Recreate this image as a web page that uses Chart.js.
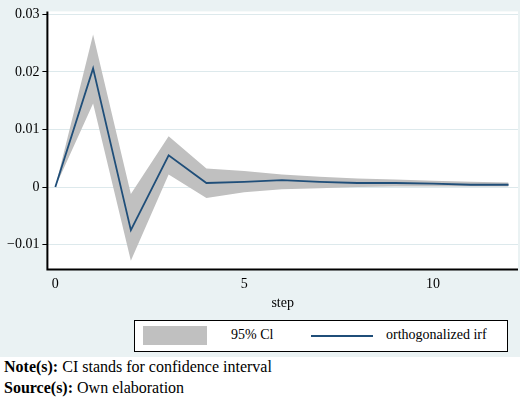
<!DOCTYPE html>
<html><head><meta charset="utf-8">
<script src="https://cdn.jsdelivr.net/npm/chart.js@4"></script>
<style>
body{margin:0;width:520px;height:405px;background:#fff;font-family:"Liberation Serif","Times New Roman",Tinos,"DejaVu Serif",serif;overflow:hidden}
#top{position:absolute;left:0;top:0;width:520px;height:357px;background:#eaf2f3}
#wrap{position:absolute;left:0;top:0;width:520px;height:312px}
#leg{position:absolute;left:134px;top:320px;width:372px;height:30px;border:1.5px solid #000;background:#fff;font-size:14px}
#notes{position:absolute;left:4px;top:356px;font-size:16px;line-height:21px;color:#000}
</style></head><body>
<div id="top"></div>
<div id="wrap"><canvas id="c"></canvas></div>
<div id="leg">
<div style="position:absolute;left:8px;top:5px;width:64px;height:19px;background:#c0c0c0"></div>
<div style="position:absolute;left:96px;top:6px">95% Cl</div>
<div style="position:absolute;left:176px;top:14px;width:62px;height:1.5px;background:#1f4e79"></div>
<div style="position:absolute;left:251px;top:6px">orthogonalized irf</div>
</div>
<div id="notes"><b>Note(s):</b> CI stands for confidence interval<br><b>Source(s):</b> Own elaboration</div>
<script>
const steps=[0,1,2,3,4,5,6,7,8,9,10,11,12];
const irf=[0,0.0206,-0.0075,0.0055,0.0007,0.0009,0.0012,0.0009,0.0007,0.0007,0.0006,0.0004,0.0004];
const upper=[0,0.0265,-0.0012,0.0088,0.0032,0.0028,0.0022,0.0018,0.0015,0.0013,0.0011,0.0009,0.0008];
const lower=[0,0.0145,-0.0128,0.0022,-0.0019,-0.0009,-0.0004,-0.0002,0.0000,0.0001,0.0001,0.0001,0.0001];
const yTicks=[-0.01,0,0.01,0.02,0.03];
const xTicks=[0,5,10];
const pts=a=>a.map((v,i)=>({x:steps[i],y:v}));
const bg={id:'bg',beforeDraw(ch){const a=ch.chartArea,c=ch.ctx;c.save();c.fillStyle='#fff';c.fillRect(a.left,a.top,a.right-a.left,a.bottom-a.top);c.restore();},
afterDraw(ch){const a=ch.chartArea,c=ch.ctx;c.save();c.strokeStyle='#000';c.lineWidth=2;c.beginPath();c.moveTo(a.left,a.top);c.lineTo(a.left,a.bottom);c.lineTo(a.right,a.bottom);c.stroke();c.restore();}};
const font={family:'"Liberation Serif", "Times New Roman", Tinos, serif',size:14};
new Chart(document.getElementById('c'),{type:'line',
data:{datasets:[
{data:pts(upper),borderWidth:0,pointRadius:0,backgroundColor:'#c0c0c0',fill:'+1',tension:0,order:3},
{data:pts(lower),borderWidth:0,pointRadius:0,fill:false,tension:0,order:2},
{data:pts(irf),borderColor:'#1f4e79',borderWidth:1.8,pointRadius:0,fill:false,tension:0,order:0}]},
options:{animation:false,responsive:true,maintainAspectRatio:false,
layout:{padding:{top:5,right:2,left:4,bottom:0}},
plugins:{legend:{display:false},tooltip:{enabled:false}},
scales:{
x:{type:'linear',min:-0.21,max:12.25,afterBuildTicks:s=>{s.ticks=xTicks.map(v=>({value:v}))},
grid:{display:false,drawTicks:true,tickLength:5},border:{display:false},
ticks:{color:'#000',font,maxRotation:0,padding:2},
title:{display:true,text:'step',color:'#000',font,padding:{top:0,bottom:0}}},
y:{min:-0.0143,max:0.0305,afterBuildTicks:s=>{s.ticks=yTicks.map(v=>({value:v}))},
grid:{color:'#dde9ec',lineWidth:1,tickLength:5,tickColor:'#000'},border:{display:false},
ticks:{color:'#000',font,padding:3,callback:v=>v===0?'0':(v<0?'\u2212'+Math.abs(v):String(v))}}}},
plugins:[bg]});
</script></body></html>
